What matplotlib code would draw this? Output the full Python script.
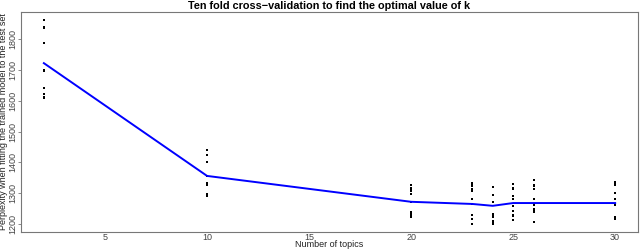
import numpy as np
import matplotlib
matplotlib.use('Agg')
import matplotlib.pyplot as plt

# ── Data ────────────────────────────────────────────────────────────
topics = [2, 10, 20, 23, 24, 25, 26, 30]
folds = [
    [1862, 1839, 1836, 1787, 1699, 1697, 1640, 1621, 1613, 1610],
    [1441, 1425, 1402, 1356, 1334, 1327, 1298, 1291, 1330, 1296],
    [1327, 1317, 1307, 1298, 1272, 1239, 1233, 1223, 1310, 1225],
    [1334, 1324, 1314, 1307, 1281, 1265, 1229, 1216, 1200, 1330],
    [1320, 1294, 1272, 1233, 1223, 1207, 1200, 1230, 1210, 1203],
    [1330, 1314, 1291, 1281, 1259, 1242, 1229, 1213, 1318, 1227],
    [1343, 1324, 1314, 1281, 1262, 1249, 1239, 1207, 1328, 1245],
    [1337, 1327, 1301, 1281, 1262, 1223, 1216, 1330, 1220, 1218],
]
mean_perp = [1722, 1356, 1272, 1265, 1259, 1268, 1268, 1268]
xticks = [5, 10, 15, 20, 25, 30]
yticks = [1200, 1300, 1400, 1500, 1600, 1700, 1800]

plt.rcParams['font.family'] = ['Liberation Sans', 'DejaVu Sans']

fig = plt.figure(figsize=(6.4, 2.5), dpi=100)
ax = fig.add_axes([21 / 640, 18 / 250, 617 / 640, 220 / 250])

px = np.repeat(topics, [len(f) for f in folds])
py = np.concatenate(folds)
ax.scatter(px, py, s=2.0, c='black', marker='s', linewidths=0, zorder=2)
ax.plot(topics, mean_perp, color='#0000ff', linewidth=1.4, zorder=3)

ax.set_xlim(0.88, 31.12)
ax.set_ylim(1174, 1888)
ax.set_xticks(xticks)
ax.set_yticks(yticks)
ax.set_yticklabels([str(v) for v in yticks], rotation=90, va='center')

for s in ax.spines.values():
    s.set_color('#777777')
    s.set_linewidth(0.8)
ax.tick_params(axis='both', colors='#444444', labelsize=6.5, width=0.6,
               direction='out')
ax.tick_params(axis='both', color='#777777')
ax.tick_params(axis='x', length=0, pad=0.5)
ax.tick_params(axis='y', length=2, pad=1)

ax.set_xlabel('Number of topics', fontsize=6.5, color='#222222', labelpad=-1)
ax.set_ylabel('Perplexity when fitting the trained model to the test set',
              fontsize=6.5, color='#222222', labelpad=0)
ax.set_title('Ten fold cross\u2212validation to find the optimal value of k',
             fontsize=7.8, fontweight='bold', pad=2)

fig.savefig('out.png', dpi=100)
